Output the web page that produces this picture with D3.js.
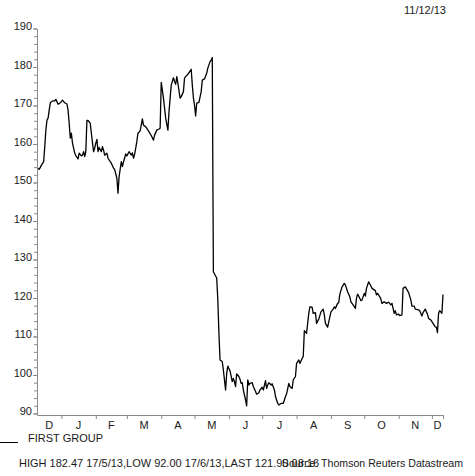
<!DOCTYPE html>
<html>
<head>
<meta charset="utf-8">
<script src="https://cdnjs.cloudflare.com/ajax/libs/d3/7.8.5/d3.min.js"></script>
<style>
  body { margin: 0; background: #fff; }
  text { font-family: "Liberation Sans", Arial, Helvetica, sans-serif; fill: #1a1a1a; }
  .axis path, .axis line { stroke: #8a8a8a; stroke-width: 1; }
</style>
</head>
<body>
<svg id="chart" width="475" height="476"></svg>
<script>
// Daily closes (approx.)
var dates = [
  "2012-12-11","2012-12-12","2012-12-14","2012-12-16","2012-12-17","2012-12-18","2012-12-19","2012-12-20","2012-12-21","2012-12-22",
  "2012-12-24","2012-12-26","2012-12-27","2012-12-29","2012-12-31","2013-01-01","2013-01-02","2013-01-04","2013-01-06","2013-01-07",
  "2013-01-08","2013-01-09","2013-01-10","2013-01-11","2013-01-13","2013-01-14","2013-01-16","2013-01-17","2013-01-19","2013-01-20",
  "2013-01-21","2013-01-22","2013-01-23","2013-01-24","2013-01-25","2013-01-27","2013-01-28","2013-01-30","2013-01-31","2013-02-01",
  "2013-02-02","2013-02-03","2013-02-04","2013-02-06","2013-02-07","2013-02-08","2013-02-09","2013-02-11","2013-02-12","2013-02-14",
  "2013-02-15","2013-02-17","2013-02-18","2013-02-20","2013-02-21","2013-02-22","2013-02-24","2013-02-25","2013-02-26","2013-02-28",
  "2013-03-01","2013-03-03","2013-03-05","2013-03-06","2013-03-07","2013-03-08","2013-03-10","2013-03-11","2013-03-13","2013-03-15",
  "2013-03-16","2013-03-18","2013-03-20","2013-03-23","2013-03-25","2013-03-26","2013-03-28","2013-03-30","2013-03-31","2013-04-01",
  "2013-04-03","2013-04-05","2013-04-07","2013-04-08","2013-04-10","2013-04-12","2013-04-13","2013-04-14","2013-04-15","2013-04-16",
  "2013-04-18","2013-04-19","2013-04-21","2013-04-22","2013-04-23","2013-04-25","2013-04-28","2013-04-29","2013-04-30","2013-05-01",
  "2013-05-02","2013-05-03","2013-05-05","2013-05-07","2013-05-08","2013-05-10","2013-05-12","2013-05-13","2013-05-15","2013-05-16",
  "2013-05-17","2013-05-18","2013-05-21","2013-05-22","2013-05-23","2013-05-24","2013-05-26","2013-05-27","2013-05-29","2013-05-30",
  "2013-05-31","2013-06-01","2013-06-02","2013-06-04","2013-06-05","2013-06-06","2013-06-07","2013-06-08","2013-06-10","2013-06-11",
  "2013-06-12","2013-06-13","2013-06-14","2013-06-16","2013-06-17","2013-06-18","2013-06-19","2013-06-20","2013-06-22","2013-06-23",
  "2013-06-25","2013-06-26","2013-06-28","2013-06-29","2013-07-01","2013-07-02","2013-07-04","2013-07-05","2013-07-06","2013-07-07",
  "2013-07-09","2013-07-10","2013-07-12","2013-07-13","2013-07-15","2013-07-16","2013-07-18","2013-07-20","2013-07-22","2013-07-23",
  "2013-07-25","2013-07-26","2013-07-28","2013-07-29","2013-07-31","2013-08-01","2013-08-03","2013-08-04","2013-08-06","2013-08-07",
  "2013-08-08","2013-08-10","2013-08-12","2013-08-13","2013-08-15","2013-08-16","2013-08-18","2013-08-19","2013-08-21","2013-08-23",
  "2013-08-25","2013-08-26","2013-08-27","2013-08-29","2013-08-30","2013-09-01","2013-09-03","2013-09-04","2013-09-05","2013-09-07",
  "2013-09-08","2013-09-09","2013-09-11","2013-09-13","2013-09-14","2013-09-16","2013-09-18","2013-09-19","2013-09-21","2013-09-23",
  "2013-09-24","2013-09-25","2013-09-26","2013-09-28","2013-09-29","2013-10-01","2013-10-02","2013-10-03","2013-10-05","2013-10-07",
  "2013-10-08","2013-10-10","2013-10-11","2013-10-12","2013-10-13","2013-10-15","2013-10-16","2013-10-17","2013-10-19","2013-10-21",
  "2013-10-23","2013-10-25","2013-10-26","2013-10-27","2013-10-28","2013-10-29","2013-10-30","2013-11-01","2013-11-02","2013-11-04",
  "2013-11-05","2013-11-07","2013-11-09","2013-11-10","2013-11-12","2013-11-13","2013-11-15","2013-11-16","2013-11-19","2013-11-20",
  "2013-11-22","2013-11-23","2013-11-25","2013-11-27","2013-11-28","2013-11-30","2013-12-02","2013-12-04","2013-12-05","2013-12-06",
  "2013-12-07","2013-12-08","2013-12-10","2013-12-11"
];

var prices = [
  153.7,153.4,154.5,155.4,159.3,163.6,166.2,166.7,168.8,170.7,
  171.2,171.2,171.6,170.3,170.7,171.0,171.4,170.7,170.4,168.8,
  165.4,161.5,162.8,160.2,157.6,157.0,156.1,157.6,156.9,157.1,
  158.0,156.7,158.0,166.1,166.1,165.4,162.8,158.0,158.9,160.2,
  161.2,158.0,159.1,158.0,159.3,158.4,157.1,157.6,156.3,155.4,
  155.0,153.7,153.4,151.1,147.2,151.5,155.4,154.1,155.4,157.4,
  156.9,158.0,157.1,157.7,156.3,157.3,160.6,162.8,163.4,166.5,
  164.9,164.5,163.6,162.2,161.0,162.3,163.6,163.9,164.1,176.0,
  171.9,166.7,163.6,168.4,175.3,177.2,176.2,175.5,177.5,175.8,
  171.9,172.3,173.6,177.1,177.5,178.1,179.4,175.3,172.0,170.1,
  167.3,170.6,170.8,173.6,176.6,176.9,178.4,179.7,181.4,181.8,
  182.47,126.8,125.2,119.5,110.9,103.9,103.5,101.3,96.1,100.4,
  102.3,101.7,101.1,98.3,99.1,98.3,97.0,100.3,99.6,98.9,
  97.8,98.0,96.1,93.5,92.0,98.7,97.4,97.8,98.0,97.0,
  95.7,95.0,95.4,96.1,96.8,96.1,98.5,96.5,97.4,98.0,
  97.4,97.7,96.1,94.4,92.6,92.2,92.6,92.6,94.4,95.1,
  97.8,97.0,96.5,98.7,99.6,103.0,103.9,103.0,104.3,104.8,
  111.5,110.8,116.0,117.7,117.6,116.0,116.2,113.4,114.5,116.4,
  117.1,115.6,113.4,112.4,113.8,116.4,117.1,117.7,117.3,118.6,
  118.8,121.0,122.9,123.8,123.4,121.6,120.3,119.0,118.2,117.3,
  119.9,121.0,120.5,119.3,119.5,121.2,120.5,122.5,124.2,123.1,
  122.5,122.1,121.9,120.8,121.2,120.3,119.7,118.6,119.0,118.6,
  118.9,118.2,118.6,117.3,116.0,116.7,115.6,115.8,115.4,115.6,
  122.5,122.9,121.9,121.4,119.5,117.9,117.9,117.1,116.9,116.7,
  115.3,116.2,117.1,115.8,114.7,114.3,113.4,112.5,112.4,111.0,
  116.0,116.7,116.0,120.9
];

var yTicks = [90, 100, 110, 120, 130, 140, 150, 160, 170, 180, 190];
var monthLabels = ["D", "J", "F", "M", "A", "M", "J", "J", "A", "S", "O", "N", "D"];
var seriesName = "FIRST GROUP";
var chartDate = "11/12/13";
var statsText = "HIGH 182.47 17/5/13,LOW 92.00 17/6/13,LAST 121.90 08:16";
var sourceText = "Source: Thomson Reuters Datastream";

var svg = d3.select("#chart");
var parse = d3.timeParse("%Y-%m-%d");

var data = dates.map(function(d, i) { return {date: parse(d), value: prices[i]}; });

// scales
var x = d3.scaleTime()
  .domain([parse("2012-12-10"), parse("2013-12-11")])
  .range([37, 443]);

var y = d3.scaleLinear()
  .domain([89.6, 190])
  .range([415, 28.5]);

// y axis, minor ticks every 2 then the labelled ones
var yMinor = svg.append("g")
  .attr("class", "axis")
  .attr("transform", "translate(37,0)")
  .call(d3.axisLeft(y).tickValues(d3.range(90, 191, 2)).tickSize(3).tickSizeOuter(0));
yMinor.selectAll("text").remove();

var yAxis = svg.append("g")
  .attr("class", "axis")
  .attr("transform", "translate(37,0)")
  .call(d3.axisLeft(y).tickValues(yTicks).tickSize(4).tickPadding(1).tickSizeOuter(0));

yAxis.selectAll("text")
  .attr("dy", "0.12em")
  .style("font-size", "11px")
  .style("fill", "#1a1a1a");
yAxis.select(".domain").remove();

// x axis, ticks at month starts
var monthStarts = d3.timeMonth.range(x.domain()[0], x.domain()[1]);

var xAxis = svg.append("g")
  .attr("class", "axis")
  .attr("transform", "translate(0,415)")
  .call(d3.axisBottom(x).tickValues(monthStarts.concat([x.domain()[1]])).tickSize(4).tickSizeOuter(0));
xAxis.selectAll("text").remove();

// month letters sit in the middle of each month
var bounds = [x.domain()[0]].concat(monthStarts, [x.domain()[1]]);
svg.append("g").selectAll("text")
  .data(monthLabels)
  .enter().append("text")
  .attr("x", function(d, i) { return (x(bounds[i]) + x(bounds[i + 1])) / 2; })
  .attr("y", 428.5)
  .attr("text-anchor", "middle")
  .style("font-size", "11px")
  .text(function(d) { return d; });

// price line
var line = d3.line()
  .x(function(d) { return x(d.date); })
  .y(function(d) { return y(d.value); });

svg.append("path")
  .datum(data)
  .attr("fill", "none")
  .attr("stroke", "#000")
  .attr("stroke-width", 1.3)
  .attr("stroke-linejoin", "round")
  .attr("d", line);

// header / legend / footer
svg.append("text")
  .attr("x", 446).attr("y", 14)
  .attr("text-anchor", "end")
  .style("font-size", "11px")
  .text(chartDate);

svg.append("line")
  .attr("x1", 0).attr("x2", 18)
  .attr("y1", 442.5).attr("y2", 442.5)
  .attr("stroke", "#000").attr("stroke-width", 1);

svg.append("text")
  .attr("x", 28).attr("y", 441.5)
  .style("font-size", "11px")
  .text(seriesName);

svg.append("text")
  .attr("x", 19).attr("y", 467)
  .style("font-size", "11px")
  .text(statsText);

svg.append("text")
  .attr("x", 463).attr("y", 467)
  .attr("text-anchor", "end")
  .style("font-size", "10.6px")
  .text(sourceText);
</script>
</body>
</html>
